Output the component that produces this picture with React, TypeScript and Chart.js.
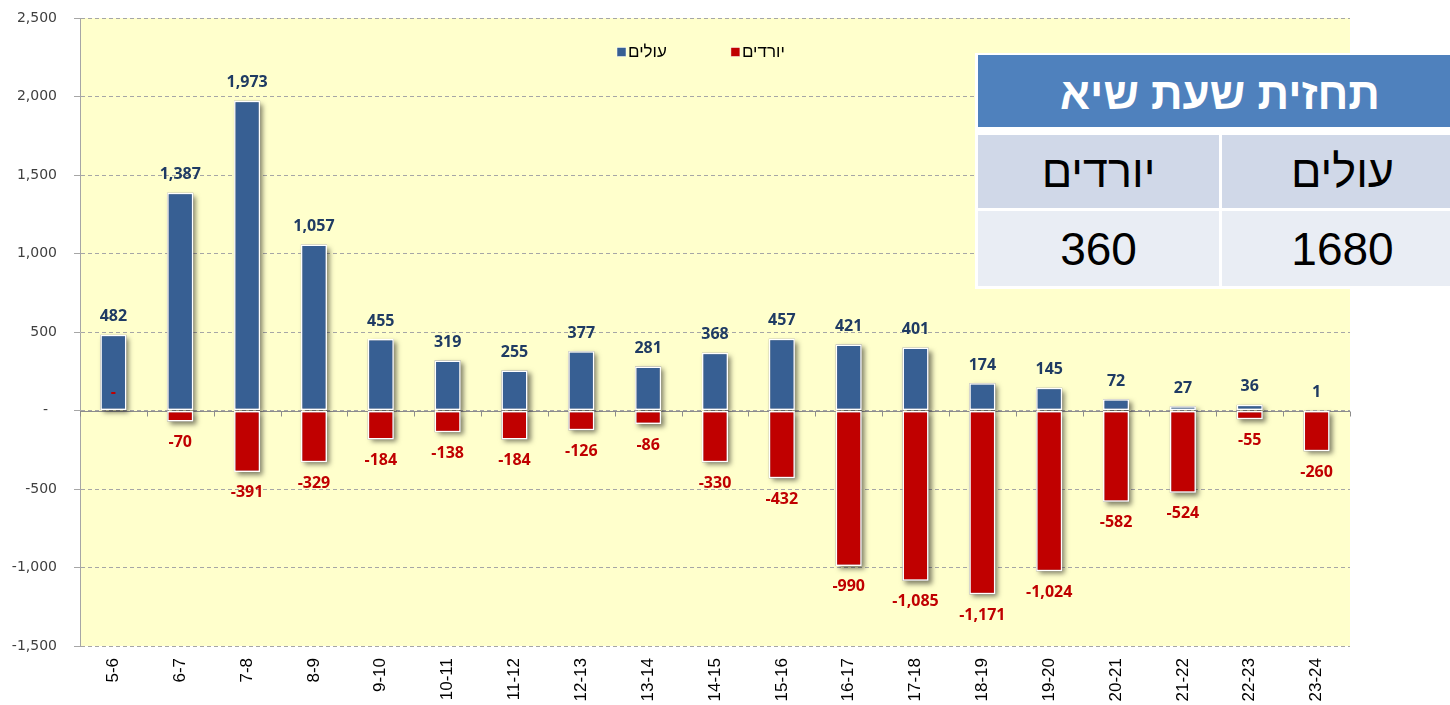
import React, { useEffect, useRef } from 'react';
import { Chart, registerables } from 'chart.js';

Chart.register(...registerables);

const categories = ['5-6', '6-7', '7-8', '8-9', '9-10', '10-11', '11-12', '12-13', '13-14', '14-15', '15-16', '16-17', '17-18', '18-19', '19-20', '20-21', '21-22', '22-23', '23-24'];
const boardingValues = [482, 1387, 1973, 1057, 455, 319, 255, 377, 281, 368, 457, 421, 401, 174, 145, 72, 27, 36, 1];
const alightingValues = [0, -70, -391, -329, -184, -138, -184, -126, -86, -330, -432, -990, -1085, -1171, -1024, -582, -524, -55, -260];
const seriesNames = ['עולים', 'יורדים'];
const seriesColors = ['#375F93', '#C00000'];
const labelColors = ['#1F3B63', '#C00000'];
const yMin = -1500;
const yMax = 2500;
const yStep = 500;

const tableTitle = 'תחזית שעת שיא';
const tableHeaders = ['יורדים', 'עולים'];
const tableValues = ['360', '1680'];

const fmt = (v: number) => (v === 0 ? '-' : v.toLocaleString('en-US'));

const backgroundPlugin = {
  id: 'plotBackground',
  beforeDraw(chart: any) {
    const { ctx, chartArea } = chart;
    ctx.save();
    ctx.fillStyle = '#FFFFCC';
    ctx.fillRect(chartArea.left, chartArea.top, chartArea.right - chartArea.left, chartArea.bottom - chartArea.top);
    ctx.restore();
  },
};

const zeroAxisPlugin = {
  id: 'zeroAxis',
  beforeDatasetsDraw(chart: any) {
    const { ctx, chartArea, scales } = chart;
    const y0 = Math.round(scales.y.getPixelForValue(0)) + 0.5;
    ctx.save();
    ctx.strokeStyle = '#8C8C8C';
    ctx.lineWidth = 1;
    ctx.beginPath();
    ctx.moveTo(chartArea.left, y0);
    ctx.lineTo(chartArea.right, y0);
    const n = categories.length;
    const step = (chartArea.right - chartArea.left) / n;
    for (let i = 0; i <= n; i++) {
      const x = Math.round(chartArea.left + i * step) + 0.5;
      ctx.moveTo(x, y0);
      ctx.lineTo(x, y0 + 5);
    }
    ctx.stroke();
    chart.data.datasets.forEach((ds: any, di: number) => {
      const meta = chart.getDatasetMeta(di);
      meta.data.forEach((el: any, i: number) => {
        const v = ds.data[i];
        if (!v) return;
        const { x, y, base, width } = el.getProps(['x', 'y', 'base', 'width'], true);
        const top = Math.min(y, base);
        const h = Math.abs(y - base);
        ctx.save();
        ctx.shadowColor = 'rgba(0,0,0,0.5)';
        ctx.shadowBlur = 5;
        ctx.shadowOffsetX = 3;
        ctx.shadowOffsetY = 3;
        ctx.fillStyle = '#999999';
        ctx.fillRect(x - width / 2, top, width, h);
        ctx.restore();
      });
    });
    ctx.restore();
  },
};

const dataLabelPlugin = {
  id: 'dataLabels',
  afterDatasetsDraw(chart: any) {
    const { ctx, scales } = chart;
    const y0 = scales.y.getPixelForValue(0);
    ctx.save();
    ctx.font = 'bold 16px "Open Sans", sans-serif';
    ctx.textAlign = 'center';
    ctx.textBaseline = 'middle';
    chart.data.datasets.forEach((ds: any, di: number) => {
      const meta = chart.getDatasetMeta(di);
      ctx.fillStyle = labelColors[di];
      meta.data.forEach((el: any, i: number) => {
        const v = ds.data[i];
        const { x, y } = el.getProps(['x', 'y'], true);
        let ly;
        if (v > 0) ly = y - 18;
        else if (v < 0) ly = y + 21;
        else ly = y0 - 18;
        ctx.fillText(fmt(v), x, ly);
      });
    });
    ctx.restore();
  },
};

const legendPlugin = {
  id: 'customLegend',
  afterDraw(chart: any) {
    const { ctx } = chart;
    ctx.save();
    ctx.font = '17px "Liberation Sans", Arial, sans-serif';
    ctx.textBaseline = 'middle';
    ctx.textAlign = 'left';
    let x = 617;
    const cy = 52;
    seriesNames.forEach((name, i) => {
      ctx.fillStyle = seriesColors[i];
      ctx.fillRect(x, cy - 4.5, 9, 9);
      ctx.strokeStyle = '#FFFFFF';
      ctx.lineWidth = 0.5;
      ctx.strokeRect(x, cy - 4.5, 9, 9);
      ctx.fillStyle = '#000000';
      ctx.fillText(name, x + 11, cy);
      const w = ctx.measureText(name).width;
      x += 11 + w + 64;
    });
    ctx.restore();
  },
};

function ChartCanvas() {
  const ref = useRef<HTMLCanvasElement>(null);
  useEffect(() => {
    if (!ref.current) return;
    const chart = new Chart(ref.current, {
      type: 'bar',
      data: {
        labels: categories,
        datasets: [
          {
            label: seriesNames[0],
            data: boardingValues,
            backgroundColor: seriesColors[0],
            borderColor: '#FFFFFF',
            borderWidth: 1.5,
            borderSkipped: false,
            barPercentage: 0.39,
            categoryPercentage: 1,
          },
          {
            label: seriesNames[1],
            data: alightingValues,
            backgroundColor: seriesColors[1],
            borderColor: '#FFFFFF',
            borderWidth: 1.5,
            borderSkipped: false,
            barPercentage: 0.39,
            categoryPercentage: 1,
          },
        ],
      },
      options: {
        responsive: false,
        animation: false,
        layout: { padding: { top: 18, right: 100, left: 0, bottom: 0 } },
        plugins: {
          legend: { display: false },
          tooltip: { enabled: false },
        },
        scales: {
          x: {
            stacked: true,
            grid: { display: false, drawTicks: false },
            border: { display: false },
            ticks: {
              autoSkip: false,
              minRotation: 90,
              maxRotation: 90,
              padding: 12,
              color: '#000000',
              font: { family: '"Liberation Sans", Arial, sans-serif', size: 17 },
            },
            afterFit(scale: any) {
              scale.height = 59;
              scale.paddingLeft = 0;
              scale.paddingRight = 0;
            },
          },
          y: {
            stacked: true,
            min: yMin,
            max: yMax,
            ticks: {
              stepSize: yStep,
              padding: 17,
              color: '#404040',
              font: { family: '"DejaVu Sans", sans-serif', size: 14 },
              callback: (v: any) => (v === 0 ? '-  ' : Number(v).toLocaleString('en-US')),
            },
            grid: { color: '#A6A6A6', tickLength: 6, lineWidth: 1 },
            border: { display: true, color: '#A6A6A6', dash: [4, 3] },
            afterFit(scale: any) {
              scale.width = 80;
              scale.paddingTop = 0;
              scale.paddingBottom = 0;
            },
          },
        },
      },
      plugins: [backgroundPlugin, zeroAxisPlugin, dataLabelPlugin, legendPlugin],
    } as any);
    return () => chart.destroy();
  }, []);
  return <canvas ref={ref} width={1450} height={705} style={{ position: 'absolute', left: 0, top: 0 }} />;
}

const cellBase: React.CSSProperties = {
  position: 'absolute',
  display: 'flex',
  alignItems: 'center',
  justifyContent: 'center',
  fontFamily: '"Liberation Sans", Arial, sans-serif',
};

function PeakTable() {
  const colLeft = [978, 1222];
  const colWidth = 241;
  return (
    <div style={{ position: 'absolute', left: 975, top: 53, width: 490, height: 236, background: '#FFFFFF' }}>
      <div
        dir="rtl"
        style={{ ...cellBase, left: 3, top: 2, width: 484, height: 72, background: '#4F81BD', color: '#FFFFFF', fontWeight: 'bold', fontSize: 44, paddingTop: 6, boxSizing: 'border-box' }}
      >
        {tableTitle}
      </div>
      {tableHeaders.map((h, i) => (
        <div
          key={'h' + i}
          dir="rtl"
          style={{ ...cellBase, left: colLeft[i] - 975, top: 82, width: colWidth, height: 73, background: '#D0D8E8', color: '#000000', fontSize: 45 }}
        >
          {h}
        </div>
      ))}
      {tableValues.map((v, i) => (
        <div
          key={'v' + i}
          style={{ ...cellBase, left: colLeft[i] - 975, top: 158, width: colWidth, height: 75, background: '#E9EDF4', color: '#000000', fontSize: 46 }}
        >
          {v}
        </div>
      ))}
    </div>
  );
}

export default function App() {
  return (
    <div style={{ position: 'fixed', left: 0, top: 0, width: 1450, height: 705, overflow: 'hidden', background: '#FFFFFF' }}>
      <ChartCanvas />
      <PeakTable />
    </div>
  );
}
